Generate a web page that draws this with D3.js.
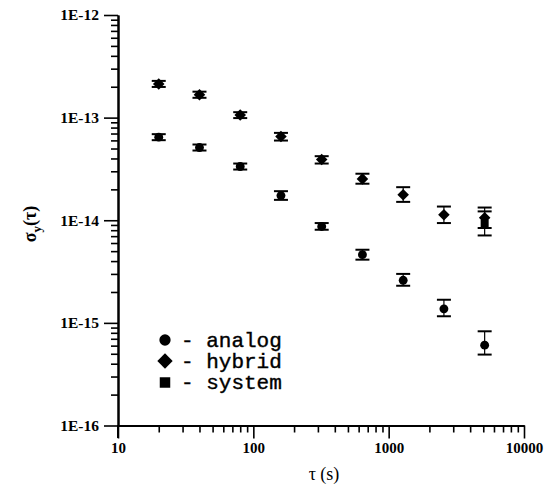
<!DOCTYPE html>
<html>
<head>
<meta charset="utf-8">
<script src="https://cdn.jsdelivr.net/npm/d3@7"></script>
<style>
  html, body { margin: 0; padding: 0; background: #fff; }
  svg { display: block; }
</style>
</head>
<body>
<script>
// ---- data ----
const tauMajor = [10, 100, 1000, 10000];
const tauMajorLabels = ["10", "100", "1000", "10000"];
const yMajor = [1e-16, 1e-15, 1e-14, 1e-13, 1e-12];
const yMajorLabels = ["1E-16", "1E-15", "1E-14", "1E-13", "1E-12"];

// analog (circle)
const analogTau = [20, 40, 80, 160, 320, 640, 1280, 2560, 5120];
const analogVal = [6.45e-14, 5.11e-14, 3.34e-14, 1.74e-14, 8.70e-15, 4.62e-15, 2.60e-15, 1.37e-15, 6.07e-16];
const analogHi  = [6.90e-14, 5.47e-14, 3.57e-14, 1.92e-14, 9.39e-15, 5.16e-15, 3.00e-15, 1.68e-15, 8.28e-16];
const analogLo  = [6.03e-14, 4.78e-14, 3.12e-14, 1.58e-14, 8.08e-15, 4.13e-15, 2.30e-15, 1.16e-15, 4.91e-16];

// hybrid (diamond)
const hybridTau = [20, 40, 80, 160, 320, 640, 1280, 2560, 5120];
const hybridVal = [2.13e-13, 1.67e-13, 1.06e-13, 6.54e-14, 3.90e-14, 2.53e-14, 1.77e-14, 1.13e-14, 1.06e-14];
const hybridHi  = [2.28e-13, 1.79e-13, 1.13e-13, 7.10e-14, 4.21e-14, 2.84e-14, 2.10e-14, 1.36e-14, 1.33e-14];
const hybridLo  = [1.99e-13, 1.56e-13, 9.90e-14, 5.98e-14, 3.57e-14, 2.27e-14, 1.51e-14, 9.39e-15, 8.40e-15];

// system (square)
const systemTau = [5120];
const systemVal = [9.25e-15];
const systemHi  = [1.22e-14];
const systemLo  = [7.11e-15];

const legendLabels = ["- analog", "- hybrid", "- system"];

// ---- drawing ----
const W = 551, H = 488;
const svg = d3.select("body").append("svg").attr("width", W).attr("height", H);

const x = d3.scaleLog().domain([10, 10000]).range([118, 524]);
const y = d3.scaleLog().domain([1e-16, 1e-12]).range([425.5, 15]);

const minorX = [];
[10, 100, 1000].forEach(d => { for (let k = 2; k <= 9; k++) minorX.push(d * k); });
const minorY = [];
[1e-16, 1e-15, 1e-14, 1e-13].forEach(d => { for (let k = 2; k <= 9; k++) minorY.push(d * k); });

const serif = "'Liberation Serif', 'DejaVu Serif', serif";

// x axis
const gx = svg.append("g").attr("transform", "translate(0,425.5)");
gx.call(d3.axisBottom(x).tickValues(minorX).tickSize(7).tickFormat("").tickSizeOuter(0));
const gx2 = svg.append("g").attr("transform", "translate(0,425.5)");
gx2.call(d3.axisBottom(x).tickValues(tauMajor).tickSize(13).tickSizeOuter(0)
  .tickFormat((d, i) => tauMajorLabels[i]).tickPadding(4));

// y axis
const gy = svg.append("g").attr("transform", "translate(118,0)");
gy.call(d3.axisLeft(y).tickValues(minorY).tickSize(7).tickFormat("").tickSizeOuter(0));
const gy2 = svg.append("g").attr("transform", "translate(118,0)");
gy2.call(d3.axisLeft(y).tickValues(yMajor).tickSize(14).tickSizeOuter(0)
  .tickFormat((d, i) => yMajorLabels[i]).tickPadding(5));

[gx, gx2, gy, gy2].forEach(g => {
  g.select(".domain").attr("stroke", "#000").attr("stroke-width", 2);
  g.selectAll(".tick line").attr("stroke", "#000").attr("stroke-width", 1.6);
  g.selectAll(".tick text").attr("fill", "#000")
    .style("font-family", serif).style("font-weight", "bold").style("font-size", "15px");
});
gy2.selectAll(".tick text").style("font-size", "15.5px");
svg.append("line").attr("x1", 118).attr("x2", 118).attr("y1", 425).attr("y2", 438)
  .attr("stroke", "#000").attr("stroke-width", 2);

// axis titles
svg.append("text").attr("x", 324).attr("y", 480).attr("text-anchor", "middle")
  .style("font-family", serif).style("font-size", "18px").attr("fill", "#000")
  .text("τ (s)");

const yt = svg.append("text")
  .attr("transform", "translate(36,224) rotate(-90)")
  .attr("text-anchor", "middle")
  .style("font-family", serif).style("font-size", "18px").style("font-weight", "bold")
  .attr("fill", "#000");
yt.append("tspan").text("σ");
yt.append("tspan").attr("dy", 5).style("font-size", "13px").text("y");
yt.append("tspan").attr("dy", -5).text("(τ)");

// data
function series(taus, vals, his, los, shape, size) {
  const pts = taus.map((t, i) => ({ t, v: vals[i], hi: his[i], lo: los[i] }));
  const g = svg.append("g");
  const capW = 7;
  pts.forEach(p => {
    const cx = x(p.t);
    g.append("line").attr("x1", cx).attr("x2", cx).attr("y1", y(p.hi)).attr("y2", y(p.lo))
      .attr("stroke", "#000").attr("stroke-width", 1.2);
    [p.hi, p.lo].forEach(e => {
      g.append("line").attr("x1", cx - capW).attr("x2", cx + capW)
        .attr("y1", y(e)).attr("y2", y(e)).attr("stroke", "#000").attr("stroke-width", 2);
    });
  });
  g.selectAll("path.m").data(pts).join("path").attr("class", "m")
    .attr("d", d3.symbol().type(shape).size(size))
    .attr("transform", p => `translate(${x(p.t)},${y(p.v)})`)
    .attr("fill", "#000");
}
series(analogTau, analogVal, analogHi, analogLo, d3.symbolCircle, 62);
series(hybridTau, hybridVal, hybridHi, hybridLo, d3.symbolDiamond2, 85);
series(systemTau, systemVal, systemHi, systemLo, d3.symbolSquare, 64);

// legend
const legShapes = [d3.symbolCircle, d3.symbolDiamond2, d3.symbolSquare];
const legSizes = [100, 150, 110];
const legY = [340, 361, 382.5];
legendLabels.forEach((lab, i) => {
  svg.append("path").attr("d", d3.symbol().type(legShapes[i]).size(legSizes[i]))
    .attr("transform", `translate(165,${legY[i]})`).attr("fill", "#000");
  svg.append("text").attr("x", 181).attr("y", legY[i] + 6.5)
    .style("font-family", "'Liberation Mono', 'DejaVu Sans Mono', monospace")
    .style("font-size", "21px").attr("fill", "#000")
    .attr("stroke", "#000").attr("stroke-width", 0.4)
    .text(lab);
});
</script>
</body>
</html>
